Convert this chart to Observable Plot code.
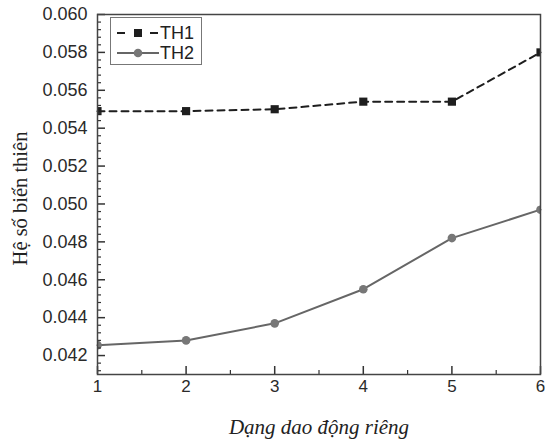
<!DOCTYPE html>
<html><head><meta charset="utf-8">
<script src="https://cdn.jsdelivr.net/npm/d3@7"></script>
<script src="https://cdn.jsdelivr.net/npm/@observablehq/plot@0.6"></script>
<style>
body{margin:0;background:#fff}
#wrap{position:relative;width:545px;height:442px}
#legend{position:absolute;left:110px;top:17px;width:92px;height:48px;border:1px solid #777;background:#fff;box-sizing:border-box}
</style>
</head><body><div id="wrap"></div>
<script>
const modes = [1, 2, 3, 4, 5, 6];
const th1 = [0.0549, 0.0549, 0.0550, 0.0554, 0.0554, 0.0580];
const th2 = [0.04255, 0.0428, 0.0437, 0.0455, 0.0482, 0.0497];
const seriesNames = ["TH1", "TH2"];
const yTicks = [0.042, 0.044, 0.046, 0.048, 0.050, 0.052, 0.054, 0.056, 0.058, 0.060];
const xTicks = [1, 2, 3, 4, 5, 6];
const xMinorTicks = [1.5, 2.5, 3.5, 4.5, 5.5];
const yMinorTicks = d3.range(103, 150).filter(k => k % 5 !== 0).map(k => k * 4 / 10000);
const yLabel = "Hệ số biến thiên";
const xLabel = "Dạng dao động riêng";

const d1 = modes.map((m, i) => ({mode: m, v: th1[i]}));
const d2 = modes.map((m, i) => ({mode: m, v: th2[i]}));

const c1 = "#1e1e1e", c2 = "#666", cDot2 = "#777";
const sans = "Liberation Sans, Arial, sans-serif";
const serif = "Liberation Serif, Times New Roman, serif";

const chart = Plot.plot({
  width: 545, height: 442,
  marginLeft: 97, marginRight: 5, marginTop: 14, marginBottom: 68,
  style: {fontFamily: sans, fontSize: "18px", color: "#2a2a2a", background: "#fff"},
  x: {domain: [1, 6]},
  y: {domain: [0.041, 0.060]},
  marks: [
    Plot.line(d2, {x: "mode", y: "v", stroke: c2, strokeWidth: 2}),
    Plot.dot(d2, {x: "mode", y: "v", r: 4.3, fill: cDot2, stroke: "none", clip: true}),
    Plot.line(d1, {x: "mode", y: "v", stroke: c1, strokeWidth: 2, strokeDasharray: "7,5"}),
    Plot.dot(d1, {x: "mode", y: "v", r: 4.6, symbol: "square", fill: c1, stroke: "none", clip: true}),
    Plot.axisY({ticks: yTicks, tickSize: 0, tickPadding: 10, tickFormat: d3.format(".3f"), fontSize: 18, label: null}),
    Plot.axisY({ticks: yTicks, tickSize: -8, text: null, stroke: "#333", strokeWidth: 1.5, label: null}),
    Plot.axisY({ticks: yMinorTicks, tickSize: -4, text: null, stroke: "#333", strokeWidth: 1.2, label: null}),
    Plot.axisX({ticks: xTicks, tickSize: 0, tickPadding: 5, tickFormat: d3.format("d"), fontSize: 17, label: null}),
    Plot.axisX({ticks: xTicks, tickSize: -8, text: null, stroke: "#333", strokeWidth: 1.5, label: null}),
    Plot.axisX({ticks: xMinorTicks, tickSize: -4, text: null, stroke: "#333", strokeWidth: 1.2, label: null}),
    Plot.frame({stroke: "#444", strokeWidth: 1.5}),
    Plot.text([yLabel], {frameAnchor: "left", textAnchor: "middle", lineAnchor: "middle", rotate: -90, dx: -77, dy: 4, fontSize: 20.5, fontFamily: serif, fill: "#222"}),
    Plot.text([xLabel], {frameAnchor: "bottom", textAnchor: "middle", lineAnchor: "middle", dy: 53, fontSize: 21, fontFamily: serif, fontStyle: "italic", fill: "#222"})
  ]
});
const wrap = document.getElementById("wrap");
wrap.appendChild(chart);

const legend = document.createElement("div");
legend.id = "legend";
legend.innerHTML = `<svg width="92" height="48" style="display:block;position:absolute;left:-1px;top:-1px">
  <line x1="7" x2="15" y1="16" y2="16" stroke="${c1}" stroke-width="2"/>
  <line x1="40" x2="48" y1="16" y2="16" stroke="${c1}" stroke-width="2"/>
  <rect x="24" y="12" width="8" height="8" fill="${c1}"/>
  <text x="50" y="16" dy="0.35em" font-size="18" font-family="${sans}" fill="#222">${seriesNames[0]}</text>
  <line x1="7" x2="49" y1="36" y2="36" stroke="${c2}" stroke-width="2"/>
  <circle cx="28" cy="36" r="4.3" fill="${cDot2}"/>
  <text x="50" y="36" dy="0.35em" font-size="18" font-family="${sans}" fill="#222">${seriesNames[1]}</text>
</svg>`;
wrap.appendChild(legend);
</script>
</body></html>
